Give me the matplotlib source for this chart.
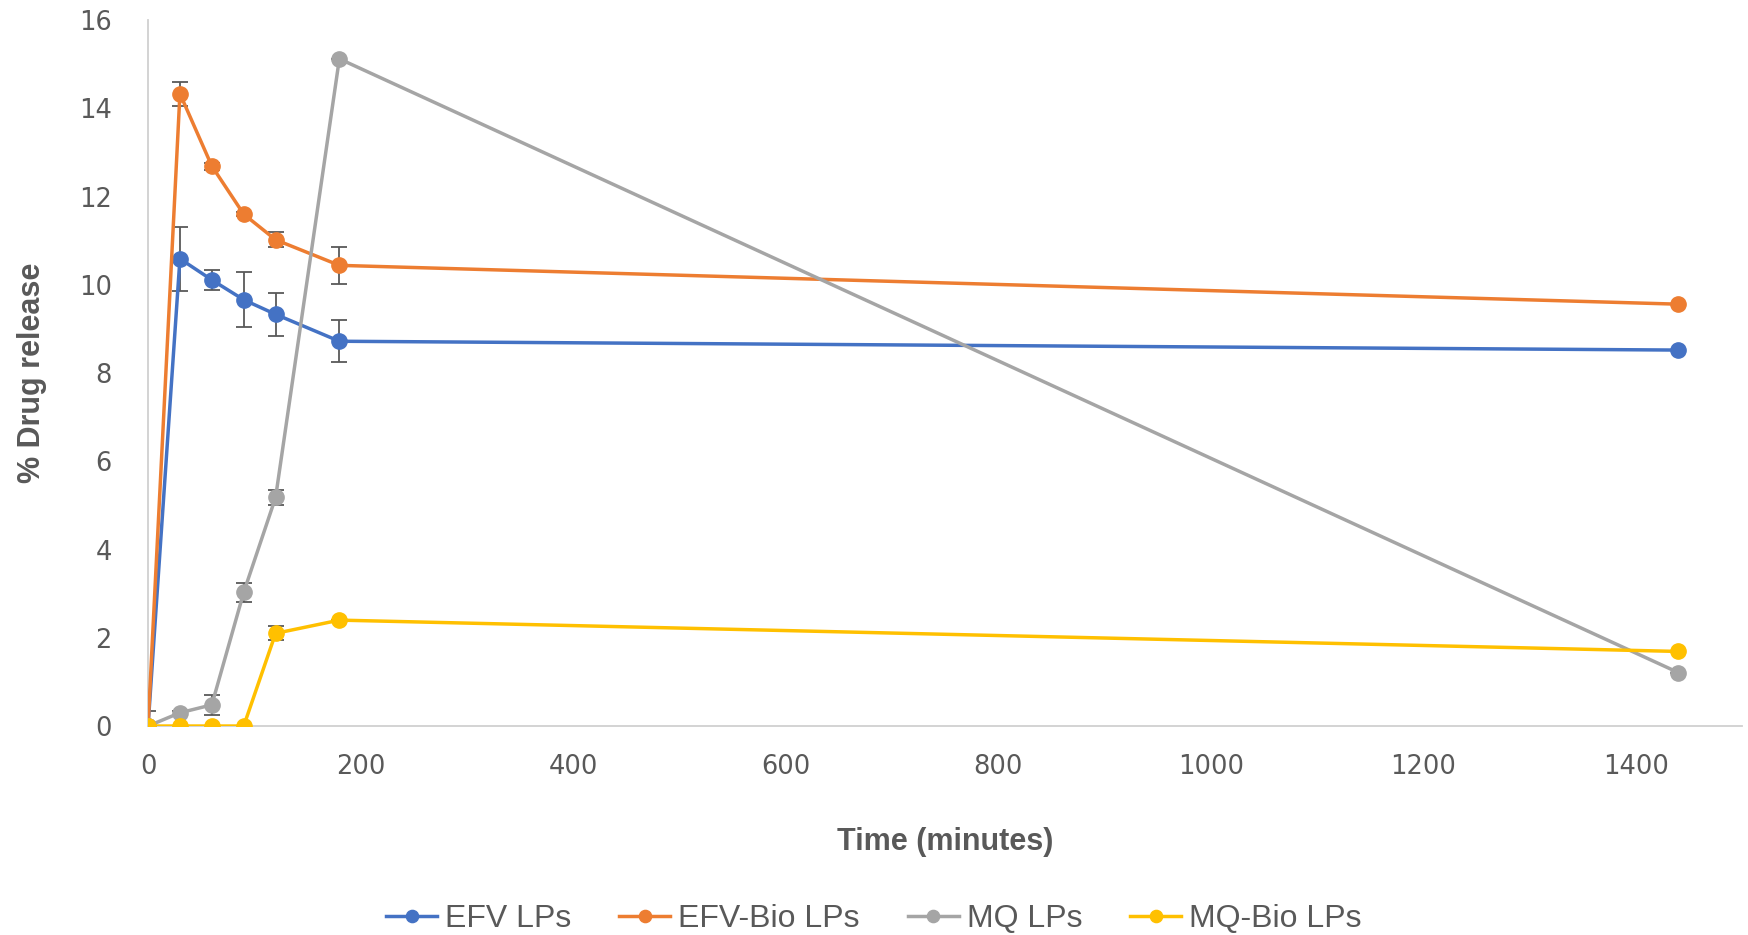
import matplotlib
matplotlib.use("Agg")
from matplotlib import pyplot as plt
import numpy as np

# time points (minutes)
time = [0, 30, 60, 90, 120, 180, 1440]

efv = [0, 10.59, 10.11, 9.66, 9.33, 8.72, 8.52]
efv_err = [0.35, 0.73, 0.22, 0.62, 0.48, 0.48, 0]
efv_bio = [0, 14.33, 12.69, 11.60, 11.02, 10.44, 9.56]
efv_bio_err = [0, 0.27, 0.08, 0.05, 0.17, 0.42, 0]
mq = [0, 0.30, 0.48, 3.03, 5.18, 15.12, 1.21]
mq_err = [0, 0.05, 0.23, 0.21, 0.17, 0, 0]
mq_bio = [0, 0, 0, 0, 2.10, 2.40, 1.69]
mq_bio_err = [0, 0, 0, 0, 0.16, 0, 0]

labels = ["EFV LPs", "EFV-Bio LPs", "MQ LPs", "MQ-Bio LPs"]
colors = ["#4472C4", "#ED7D31", "#A5A5A5", "#FFC000"]

grey = "#595959"
sans = ["Liberation Sans", "DejaVu Sans"]

fig = plt.figure(figsize=(17.48, 9.35), dpi=100)
ax = fig.add_axes([0.0847, 0.2235, 0.912, 0.7551])

series = [(efv, efv_err), (efv_bio, efv_bio_err), (mq, mq_err), (mq_bio, mq_bio_err)]
for (vals, err), lab, col in zip(series, labels, colors):
    ax.errorbar(time, vals, yerr=err, fmt="none", ecolor=grey, elinewidth=1.3,
                capsize=6, capthick=1.3, zorder=2)
    ax.plot(time, vals, color=col, lw=2.5, marker="o", markersize=11,
            label=lab, zorder=3)

ax.set_xlim(0, 1500)
ax.set_ylim(0, 16)
ax.set_xticks(np.arange(0, 1401, 200))
ax.set_yticks(np.arange(0, 17, 2))
ax.tick_params(length=0, labelsize=18.5, labelcolor=grey)
for t in ax.get_xticklabels() + ax.get_yticklabels():
    t.set_family("DejaVu Sans")
ax.tick_params(axis="x", pad=20)
ax.tick_params(axis="y", pad=26)

for s in ["top", "right"]:
    ax.spines[s].set_visible(False)
for s in ["left", "bottom"]:
    ax.spines[s].set_color("#D0D0D0")
    ax.spines[s].set_linewidth(1.3)

ax.set_xlabel("Time (minutes)", fontsize=22, fontweight="bold", color=grey,
              family=sans, labelpad=34)
ax.set_ylabel("% Drug release", fontsize=22, fontweight="bold", color=grey,
              family=sans, labelpad=23)

leg = fig.legend(loc="lower center", ncol=4, frameon=False, bbox_to_anchor=(0.5, -0.03),
                 prop={"family": sans, "size": 23}, handlelength=1.6,
                 columnspacing=1.5, handletextpad=0.25, markerscale=0.8)
for t in leg.get_texts():
    t.set_color(grey)

fig.savefig("out.png", dpi=100)
